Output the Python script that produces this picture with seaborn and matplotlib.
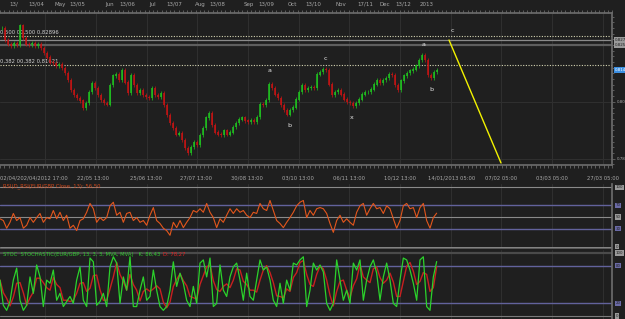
import numpy as np
import pandas as pd
import matplotlib
matplotlib.use("Agg")
import matplotlib.pyplot as plt
import matplotlib.transforms as mtrans
from matplotlib.ticker import MultipleLocator
import seaborn as sns

# ---------------- data ----------------
close = [0.8325, 0.8272, 0.8254, 0.8246, 0.8259, 0.8250, 0.8334, 0.8281, 0.8254, 0.8250,
         0.8259, 0.8246, 0.8254, 0.8237, 0.8215, 0.8197, 0.8175, 0.8171, 0.8158, 0.8166,
         0.8149, 0.8127, 0.8096, 0.8052, 0.8030, 0.8017, 0.8004, 0.7973, 0.7995, 0.8043,
         0.8083, 0.8061, 0.8030, 0.8008, 0.7995, 0.7990, 0.8074, 0.8114, 0.8122, 0.8096,
         0.8140, 0.8087, 0.8039, 0.8118, 0.8074, 0.8039, 0.8052, 0.8030, 0.8021, 0.8017,
         0.8061, 0.8030, 0.8021, 0.8039, 0.7986, 0.7942, 0.7907, 0.7885, 0.7858, 0.7863,
         0.7832, 0.7797, 0.7775, 0.7801, 0.7823, 0.7810, 0.7854, 0.7885, 0.7929, 0.7951,
         0.7898, 0.7867, 0.7858, 0.7854, 0.7872, 0.7858, 0.7867, 0.7889, 0.7907, 0.7924,
         0.7929, 0.7916, 0.7912, 0.7920, 0.7912, 0.7933, 0.7990, 0.7986, 0.8008, 0.8078,
         0.8061, 0.8034, 0.8017, 0.7986, 0.7964, 0.7946, 0.7964, 0.7977, 0.8012, 0.8043,
         0.8074, 0.8052, 0.8061, 0.8065, 0.8061, 0.8122, 0.8131, 0.8144, 0.8140, 0.8078,
         0.8030, 0.8043, 0.8052, 0.8034, 0.8012, 0.7999, 0.7995, 0.7982, 0.7995, 0.8012,
         0.8034, 0.8043, 0.8043, 0.8056, 0.8078, 0.8096, 0.8083, 0.8096, 0.8105, 0.8122,
         0.8118, 0.8074, 0.8052, 0.8092, 0.8114, 0.8127, 0.8136, 0.8144, 0.8158, 0.8184,
         0.8206, 0.8184, 0.8118, 0.8105, 0.8131, 0.8140]

rsi = [47, 44, 31, 41, 56, 44, 49, 31, 36, 49,
       41, 49, 56, 41, 49, 47, 61, 47, 58, 44,
       53, 31, 36, 27, 44, 47, 58, 73, 64, 41,
       49, 44, 49, 69, 75, 53, 58, 41, 56, 58,
       44, 49, 41, 44, 36, 53, 66, 44, 39, 31,
       27, 19, 41, 32, 44, 32, 41, 49, 61, 58,
       64, 58, 73, 58, 49, 32, 47, 41, 53, 64,
       56, 64, 58, 61, 53, 49, 58, 56, 73, 64,
       61, 78, 61, 44, 39, 32, 41, 49, 58, 69,
       75, 78, 49, 61, 53, 64, 66, 64, 56, 39,
       24, 44, 53, 41, 47, 41, 36, 58, 69, 73,
       53, 64, 73, 64, 66, 56, 69, 64, 47, 31,
       44, 69, 73, 64, 66, 49, 66, 73, 44, 31,
       49, 56.5]

stoch_k = [57, 17, 9, 23, 57, 76, 25, 9, 17, 62,
           36, 81, 62, 15, 57, 52, 73, 25, 36, 15,
           23, 31, 20, 57, 78, 25, 15, 92, 86, 17,
           23, 36, 15, 78, 94, 84, 20, 62, 41, 94,
           15, 15, 41, 62, 25, 31, 73, 41, 15, 9,
           15, 41, 86, 47, 68, 52, 25, 15, 47, 20,
           84, 89, 62, 92, 15, 20, 81, 41, 31, 62,
           78, 84, 57, 25, 68, 31, 25, 57, 89, 73,
           78, 57, 25, 15, 52, 20, 57, 41, 84, 81,
           89, 94, 15, 41, 84, 73, 81, 70, 20, 9,
           20, 89, 57, 25, 41, 20, 84, 73, 89, 25,
           57, 78, 89, 68, 25, 62, 84, 57, 20, 15,
           57, 92, 89, 73, 52, 25, 89, 94, 15, 9,
           62, 86.43]

stoch_d = [57, 37, 28, 16, 30, 52, 53, 37, 17, 29,
           38, 60, 60, 53, 45, 41, 61, 50, 45, 25,
           25, 23, 25, 36, 52, 53, 39, 44, 64, 65,
           42, 25, 25, 43, 62, 85, 66, 55, 41, 66,
           50, 41, 24, 39, 43, 39, 43, 48, 43, 22,
           13, 22, 47, 58, 67, 56, 48, 31, 29, 27,
           50, 64, 78, 81, 56, 42, 39, 47, 51, 45,
           57, 75, 73, 55, 50, 41, 41, 38, 57, 73,
           80, 69, 53, 32, 31, 29, 43, 39, 61, 69,
           85, 88, 66, 50, 47, 66, 79, 75, 57, 33,
           16, 39, 55, 57, 41, 29, 48, 59, 82, 62,
           57, 53, 75, 78, 61, 52, 57, 68, 54, 31,
           31, 55, 79, 85, 71, 50, 55, 69, 66, 39,
           45, 78.27]

top_labels = ["13/", "13/04", "May", "13/05", "Jun", "13/06", "Jul", "13/07", "Aug", "13/08",
              "Sep", "13/09", "Oct", "13/10", "Nov", "17/11", "Dec", "13/12", "2013"]
top_label_pos = [14, 36, 60, 77, 110, 127, 153, 174, 200, 217,
                 249, 266, 292, 313, 341, 365, 385, 403, 427]
bottom_labels = ["02/04/202/04/2012 17:00", "22/05 13:00", "25/06 13:00", "27/07 13:00",
                 "30/08 13:00", "03/10 13:00", "06/11 13:00", "10/12 13:00",
                 "14/01/2013 05:00", "07/02 05:00", "03/03 05:00", "27/03 05:00"]
bottom_label_pos = [0.5, 93, 146, 196, 247, 298, 349, 400, 452, 501, 552, 603]
grid_pos = [45, 96, 147, 197, 248, 299, 349, 400, 451, 501, 552, 603]

fib_levels = [0.82896, 0.81621]
fib_texts = ["0,500 00,500 0,82896", "0,382 00,382 0,81621"]
user_lines = [0.8272, 0.8248]
price_grid = [0.800, 0.775]
price_grid_labels = ["0.80", "0.78"]
last_price = 0.8140
trend_x = [449, 501]
trend_y = [0.8272, 0.7731]
wave_text = ["a", "b", "c", "x", "a", "b", "c"]
wave_x = [270, 289, 325, 352, 424, 431, 452]
wave_y = [0.8138, 0.7894, 0.8190, 0.7929, 0.8252, 0.8056, 0.8316]

rsi_label = "RSI(D_RSI(EUR/GBP Close, 13): 56,50"
stoch_label = "STOC  STOCHASTIC(EUR/GBP, 13, 3, 3, MVA, MVA)   K: 86,43"
stoch_label_d = "D: 78,27"

# ---------------- style ----------------
BG = "#1f1f1f"
GRID = "#303030"
TXT = "#a8a8a8"
PURPLE = "#62629c"
sns.set_theme(style="dark")
plt.rcParams.update({
    "figure.facecolor": BG, "axes.facecolor": BG, "savefig.facecolor": BG,
    "axes.edgecolor": "#6a6a6a", "text.color": TXT,
})
plt.rcParams["font.family"] = ["DejaVu Sans"]
FS_T = 4.0     # top date labels
FS_B = 3.8     # bottom date labels
FS_L = 3.8     # panel labels / fib texts
FS_R = 2.9     # right price-axis boxes

W, H = 625, 319
fig = plt.figure(figsize=(W / 100, H / 100), dpi=100)
AXW = 612 / W


def rect(top_px, bot_px):
    return [0, 1 - bot_px / H, AXW, (bot_px - top_px) / H]


price_x = 2 + 3 * np.arange(len(close))
osc_x = np.arange(len(rsi)) * 10 / 3

# ---------------- main price panel ----------------
ax = fig.add_axes(rect(13, 165))
ax.set_xlim(0, 612)
ax.set_ylim(0.8448 - 0.00044 * 165, 0.8448 - 0.00044 * 13)
for gx in grid_pos:
    ax.axvline(gx, color=GRID, lw=0.7, zorder=0)
for gy in price_grid:
    ax.axhline(gy, color=GRID, lw=0.7, zorder=0)
ax.axhline(user_lines[0], color="#8a8a8a", lw=0.9, zorder=1)
ax.axhline(user_lines[1], color="#5e5e5e", lw=1.6, zorder=1)
for lvl, t in zip(fib_levels, fib_texts):
    ax.axhline(lvl, color="#d6d6b4", lw=0.8, ls=(0, (1, 1.4)), zorder=2)
    ax.text(0.5, lvl + 0.0004, t, fontsize=FS_L, color="#d0d0d0", ha="left", va="bottom")

df = pd.DataFrame({"x": price_x, "close": close})
df["open"] = df["close"].shift(1).fillna(df["close"])
df["bot"] = df[["open", "close"]].min(axis=1)
df["top"] = df[["open", "close"]].max(axis=1)
cols = np.where(df["close"] >= df["open"], "#1fc41f", "#c81414")
# thin wicks, then bodies
ax.vlines(df["x"], df["bot"] - 0.0009, df["top"] + 0.0009, colors=cols, lw=0.5, zorder=3)
ax.vlines(df["x"], df["bot"] - 0.0002, df["top"] + 0.0002, colors=cols, lw=1.1, zorder=3)

sns.lineplot(x=trend_x, y=trend_y, color="#f2f200", lw=1.0, ax=ax, zorder=4)
for s, x, y in zip(wave_text, wave_x, wave_y):
    ax.text(x, y, s, fontsize=4.6, color="#e6e6e6", ha="center", va="center")

ax.spines["left"].set_visible(False)
for sp in ["top", "bottom", "right"]:
    ax.spines[sp].set_color("#6a6a6a")
ax.set_xticks(bottom_label_pos, bottom_labels)
ax.get_xticklabels()[0].set_horizontalalignment("left")
ax.xaxis.set_minor_locator(MultipleLocator(4.25))
ax.tick_params(axis="x", which="major", length=0, pad=7.5, labelsize=FS_B, labelcolor=TXT)
ax.tick_params(axis="x", which="minor", top=True, bottom=True, direction="out",
               length=2.5, width=0.5, color="#777777")
ax.yaxis.tick_right()
ax.set_yticks(price_grid, price_grid_labels)
ax.yaxis.set_minor_locator(MultipleLocator(0.0025))
ax.tick_params(axis="y", which="major", length=2.5, width=0.5, color="#777777",
               pad=1.0, labelsize=FS_R, labelcolor=TXT)
ax.tick_params(axis="y", which="minor", right=True, length=1.5, width=0.5, color="#777777")
ax.set_xlabel("")
ax.set_ylabel("")
tr = mtrans.blended_transform_factory(ax.transData, fig.transFigure)
for s, x in zip(top_labels, top_label_pos):
    ax.text(x, 1 - 4.5 / H, s, transform=tr, fontsize=FS_T, color=TXT,
            ha="center", va="center")
trr = mtrans.blended_transform_factory(ax.transAxes, ax.transData)
for lvl, fc, tc in [(user_lines[0], "#9a9a9a", "#202020"),
                    (user_lines[1], "#9a9a9a", "#202020"),
                    (last_price, "#3c8fe2", "#ffffff")]:
    ax.text(1.004, lvl, f"{lvl:.3f}", transform=trr, fontsize=FS_R, color=tc,
            ha="left", va="center", clip_on=False,
            bbox=dict(fc=fc, ec="none", pad=0.4))

# ---------------- RSI panel ----------------
ax2 = fig.add_axes(rect(184, 249))
ax2.set_xlim(0, 612)
ax2.set_ylim(-4.2, 105.9)
for gx in grid_pos:
    ax2.axvline(gx, color=GRID, lw=0.7, zorder=0)
ax2.axhline(100, color="#8a8a8a", lw=0.8)
ax2.axhline(70, color=PURPLE, lw=1.0)
ax2.axhline(50, color="#8a8a8a", lw=0.8)
ax2.axhline(30, color=PURPLE, lw=1.0)
ax2.axhline(0, color="#8a8a8a", lw=0.7)
ax2.axhline(-2.4, color="#5a5a5a", lw=0.8)
sns.lineplot(x=osc_x, y=rsi, color="#e3561c", lw=0.8, ax=ax2)
ax2.text(3, 101.5, rsi_label, fontsize=FS_L, color="#d2481a", ha="left", va="center")
trr2 = mtrans.blended_transform_factory(ax2.transAxes, ax2.transData)
for v, fc in [(100, "#9a9a9a"), (70, "#6a6aa6"), (50, "#9a9a9a"), (30, "#6a6aa6"), (0, "#9a9a9a")]:
    ax2.text(1.006, v, f"{v}", transform=trr2, fontsize=FS_R, color="#202020",
             ha="left", va="center", clip_on=False, bbox=dict(fc=fc, ec="none", pad=0.4))

# ---------------- Stochastic panel ----------------
ax3 = fig.add_axes(rect(250, 319))
ax3.set_xlim(0, 612)
ax3.set_ylim(-4.76, 104.76)
for gx in grid_pos:
    ax3.axvline(gx, color=GRID, lw=0.7, zorder=0)
ax3.axhline(100, color="#4a4a4a", lw=1.6)
ax3.axhline(80, color=PURPLE, lw=1.0)
ax3.axhline(20, color=PURPLE, lw=1.0)
ax3.axhline(0, color="#7a7a7a", lw=0.8)
sns.lineplot(x=osc_x, y=stoch_d, color="#c82020", lw=1.0, ax=ax3)
sns.lineplot(x=osc_x, y=stoch_k, color="#2bd22b", lw=0.9, ax=ax3)
t1 = ax3.text(3, 98, stoch_label, fontsize=FS_L, color="#2fc82f", ha="left", va="center")
ax3.annotate(stoch_label_d, xy=(1, 0.5), xycoords=t1, xytext=(2, 0),
             textcoords="offset points", fontsize=FS_L, color="#e02020", va="center")
trr3 = mtrans.blended_transform_factory(ax3.transAxes, ax3.transData)
for v, fc in [(100, "#9a9a9a"), (80, "#6a6aa6"), (20, "#6a6aa6"), (0, "#9a9a9a")]:
    ax3.text(1.006, v, f"{v}", transform=trr3, fontsize=FS_R, color="#202020",
             ha="left", va="center", clip_on=False, bbox=dict(fc=fc, ec="none", pad=0.4))

for a in (ax2, ax3):
    a.set_xticks([])
    a.set_yticks([])
    a.set_xlabel("")
    a.set_ylabel("")
    for sp in ["left", "top", "bottom"]:
        a.spines[sp].set_visible(False)
    a.spines["right"].set_color("#6a6a6a")

fig.savefig("out.png", dpi=100, facecolor=BG)
